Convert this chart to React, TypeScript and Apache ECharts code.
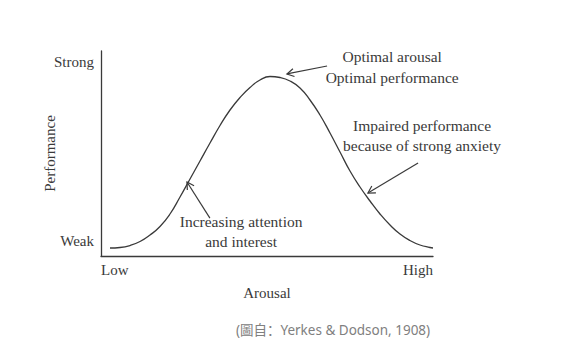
import React, { useEffect, useRef } from "react";
import * as echarts from "echarts";

// Curve: arousal (0-100) vs performance (0-100)
const arousal = [2.71, 5.72, 8.73, 11.75, 14.76, 17.77, 20.78, 23.8, 26.81, 29.82, 32.83, 35.84, 38.86, 41.87, 44.88, 47.89, 50.9, 53.92, 56.93, 59.94, 62.95, 65.96, 68.98, 71.99, 75.0, 78.01, 81.02, 84.04, 87.05, 90.06, 93.07, 96.08, 99.1, 100];
const performance = [3.9, 4.15, 5.12, 7.07, 10.24, 14.39, 20.49, 28.78, 37.56, 46.34, 55.12, 63.66, 71.22, 77.32, 82.2, 85.85, 87.56, 87.07, 85.37, 81.95, 76.1, 68.78, 60.0, 50.73, 41.46, 33.66, 26.83, 20.49, 15.12, 10.73, 7.56, 5.37, 4.15, 3.9];

// Tick labels
const xTickValues = [0, 100];
const xTickLabels = ["Low", "High"];
const yTickValues = [7.3, 94.6];
const yTickLabels = ["Weak", "Strong"];

// Annotations (data coordinates)
const annotationTexts = ["Optimal arousal", "Optimal performance", "Impaired performance", "because of strong anxiety", "Increasing attention", "and interest"];
const annotationX = [87.7, 87.7, 96.7, 96.7, 42.2, 42.2];
const annotationY = [97.1, 87.3, 63.9, 54.1, 16.6, 7.3];

// Arrows: tail -> head (data coordinates)
const arrowTailX = [68.1, 95.5, 32.8];
const arrowTailY = [92.7, 45.4, 18.5];
const arrowHeadX = [56.0, 80.4, 25.9];
const arrowHeadY = [88.8, 30.7, 36.1];

const caption = "(圖自：Yerkes & Dodson, 1908)";

const SERIF = "'Liberation Serif', 'Times New Roman', serif";
const INK = "#3a3a3a";

export default function App() {
  const ref = useRef<HTMLDivElement>(null);
  useEffect(() => {
    document.body.style.margin = "0";
    if (!ref.current) return;
    const chart = echarts.init(ref.current, null, { renderer: "svg" });
    chart.setOption({
      animation: false,
      backgroundColor: "#ffffff",
      grid: { left: 101, right: 149, top: 51, bottom: 100 },
      xAxis: {
        type: "value",
        min: 0,
        max: 100,
        name: "Arousal",
        nameLocation: "middle",
        nameGap: 29,
        nameMoveOverlap: false,
        nameTextStyle: { fontFamily: SERIF, fontSize: 15, color: INK },
        axisLine: { show: true, lineStyle: { color: INK, width: 1.3 } },
        axisTick: { show: false },
        splitLine: { show: false },
        axisLabel: {
          customValues: xTickValues,
          formatter: (v: number) => xTickLabels[xTickValues.indexOf(v)] ?? "",
          alignMinLabel: "left",
          alignMaxLabel: "right",
          margin: 6,
          fontFamily: SERIF,
          fontSize: 15,
          color: INK,
        },
      },
      yAxis: {
        type: "value",
        min: 0,
        max: 100,
        name: "Performance",
        nameLocation: "middle",
        nameRotate: 90,
        nameGap: 44,
        nameMoveOverlap: false,
        nameTextStyle: { fontFamily: SERIF, fontSize: 15, color: INK },
        axisLine: { show: true, onZero: false, lineStyle: { color: INK, width: 1.3 } },
        axisTick: { show: false },
        splitLine: { show: false },
        axisLabel: {
          customValues: yTickValues,
          formatter: (v: number) => {
            let best = 0;
            yTickValues.forEach((t, i) => {
              if (Math.abs(t - v) < Math.abs(yTickValues[best] - v)) best = i;
            });
            return yTickLabels[best];
          },
          margin: 7,
          fontFamily: SERIF,
          fontSize: 15,
          color: INK,
        },
      },
      series: [
        {
          type: "line",
          smooth: 0.5,
          symbol: "none",
          data: arousal.map((x, i) => [x, performance[i]]),
          lineStyle: { color: INK, width: 1.3 },
        },
      ],
    });

    const px = (x: number, y: number) => chart.convertToPixel({ gridIndex: 0 }, [x, y]) as number[];
    const graphics: any[] = [];
    annotationTexts.forEach((t, i) => {
      const p = px(annotationX[i], annotationY[i]);
      graphics.push({
        type: "text",
        x: p[0],
        y: p[1],
        style: {
          text: t,
          fontFamily: SERIF,
          fontSize: 15.5,
          fill: INK,
          textAlign: "center",
          textVerticalAlign: "middle",
        },
      });
    });
    arrowTailX.forEach((_, i) => {
      const t = px(arrowTailX[i], arrowTailY[i]);
      const h = px(arrowHeadX[i], arrowHeadY[i]);
      const dx = h[0] - t[0];
      const dy = h[1] - t[1];
      const len = Math.hypot(dx, dy);
      const ux = dx / len;
      const uy = dy / len;
      const L = 8;
      const th = (30 * Math.PI) / 180;
      const rot = (a: number) => [ux * Math.cos(a) - uy * Math.sin(a), ux * Math.sin(a) + uy * Math.cos(a)];
      const r1 = rot(th);
      const r2 = rot(-th);
      graphics.push({
        type: "line",
        shape: { x1: t[0], y1: t[1], x2: h[0], y2: h[1] },
        style: { stroke: INK, lineWidth: 1.2 },
      });
      graphics.push({
        type: "polyline",
        shape: {
          points: [
            [h[0] - L * r1[0], h[1] - L * r1[1]],
            [h[0], h[1]],
            [h[0] - L * r2[0], h[1] - L * r2[1]],
          ],
        },
        style: { stroke: INK, lineWidth: 1.2, fill: "none" },
      });
    });
    graphics.push({
      type: "text",
      x: 333,
      y: 330,
      style: {
        text: caption,
        fontFamily: "'Noto Sans', 'Noto Sans CJK SC', sans-serif",
        fontSize: 13.5,
        fill: "#808080",
        textAlign: "center",
        textVerticalAlign: "middle",
      },
    });
    chart.setOption({ graphic: graphics });

    return () => chart.dispose();
  }, []);
  return <div ref={ref} style={{ width: 582, height: 356 }} />;
}
